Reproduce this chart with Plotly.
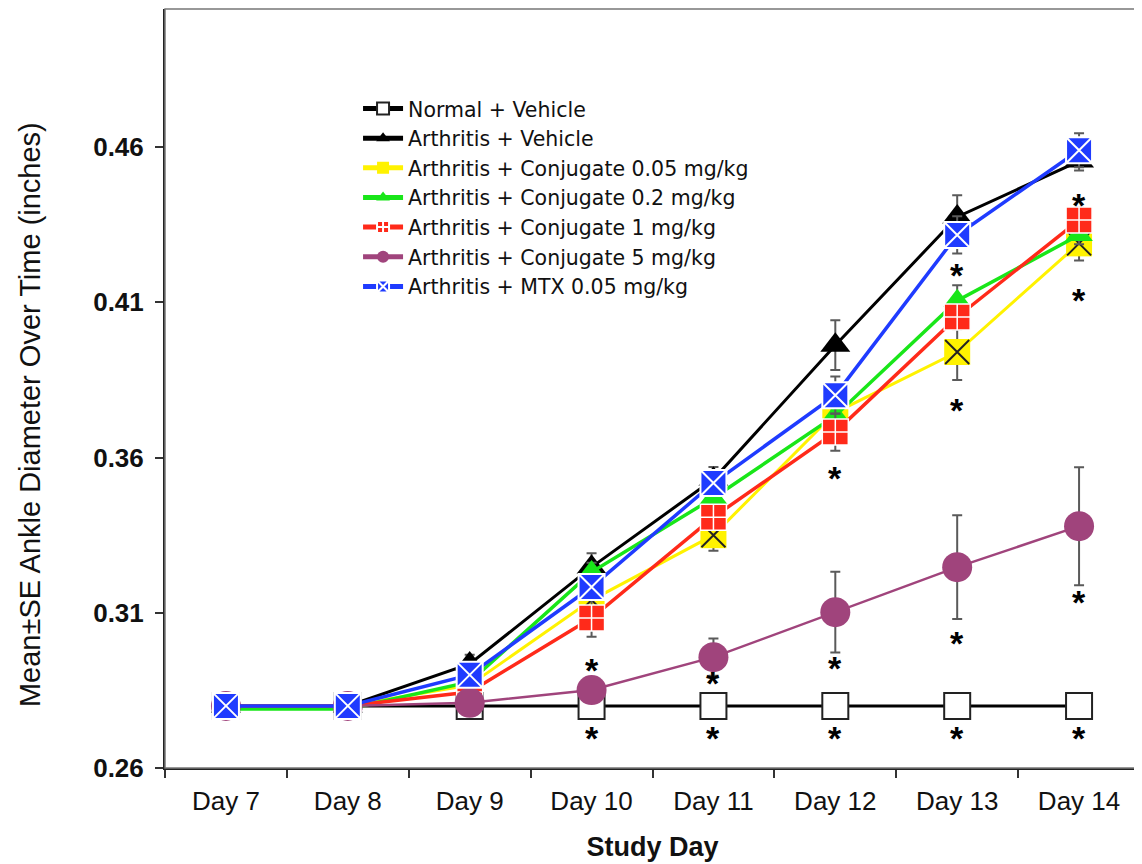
import plotly.graph_objects as go

days = ["Day 7", "Day 8", "Day 9", "Day 10", "Day 11", "Day 12", "Day 13", "Day 14"]

normal_vehicle = [0.280, 0.280, 0.280, 0.280, 0.280, 0.280, 0.280, 0.280]
normal_vehicle_se = [0, 0, 0, 0, 0, 0, 0, 0]

arthritis_vehicle = [0.280, 0.280, 0.2935, 0.3247, 0.3530, 0.3962, 0.4375, 0.4555]
arthritis_vehicle_se = [0, 0, 0.003, 0.0045, 0.004, 0.008, 0.007, 0.003]

conj_005 = [0.280, 0.280, 0.2867, 0.3141, 0.3350, 0.3745, 0.3940, 0.4290]
conj_005_se = [0, 0, 0.002, 0.004, 0.005, 0.005, 0.009, 0.0055]

conj_02 = [0.279, 0.279, 0.2877, 0.3231, 0.3470, 0.3735, 0.4105, 0.4317]
conj_02_se = [0, 0, 0.002, 0.003, 0.003, 0.004, 0.005, 0.003]

conj_1 = [0.280, 0.280, 0.2845, 0.3083, 0.3408, 0.3682, 0.4053, 0.4365]
conj_1_se = [0, 0, 0.002, 0.006, 0.004, 0.006, 0.004, 0.004]

conj_5 = [0.280, 0.280, 0.2810, 0.2851, 0.2957, 0.3102, 0.3247, 0.3379]
conj_5_se = [0, 0, 0.001, 0.002, 0.006, 0.013, 0.0167, 0.019]

mtx_005 = [0.280, 0.280, 0.2900, 0.3183, 0.3518, 0.3801, 0.4317, 0.4590]
mtx_005_se = [0, 0, 0.002, 0.004, 0.004, 0.006, 0.006, 0.0055]

# significance asterisks (day, value)
star_days = ["Day 10", "Day 10", "Day 11", "Day 11", "Day 12", "Day 12", "Day 12",
             "Day 13", "Day 13", "Day 13", "Day 13", "Day 14", "Day 14", "Day 14", "Day 14"]
star_vals = [0.2932, 0.2713, 0.2890, 0.2713, 0.3550, 0.2938, 0.2713,
             0.4204, 0.3769, 0.3019, 0.2713, 0.4429, 0.4123, 0.3151, 0.2713]

y_ticks = [0.26, 0.31, 0.36, 0.41, 0.46]

y_title = "Mean±SE Ankle Diameter Over Time (inches)"
x_title = "Study Day"

ERR_COLOR = "#5a5a5a"

def err(se):
    return dict(type="data", array=se, visible=True, color=ERR_COLOR, thickness=2, width=5)

fig = go.Figure()

fig.add_trace(go.Scatter(
    x=days, y=normal_vehicle, name="Normal + Vehicle", mode="lines+markers",
    line=dict(color="black", width=3),
    marker=dict(symbol="square", size=26, color="white", line=dict(color="#222", width=2)),
    error_y=err(normal_vehicle_se)))

fig.add_trace(go.Scatter(
    x=days, y=arthritis_vehicle, name="Arthritis + Vehicle", mode="lines+markers",
    line=dict(color="black", width=3),
    marker=dict(symbol="triangle-up", size=26, color="black"),
    error_y=err(arthritis_vehicle_se)))

fig.add_trace(go.Scatter(
    x=days, y=conj_005, name="Arthritis + Conjugate 0.05 mg/kg", mode="lines+markers",
    line=dict(color="#FFF200", width=3),
    marker=dict(symbol="square", size=26, color="#FFF200"),
    error_y=err(conj_005_se)))
fig.add_trace(go.Scatter(
    x=days, y=conj_005, mode="markers", showlegend=False,
    marker=dict(symbol="x-thin", size=24, color="#222", line=dict(color="#222", width=2)),
    hoverinfo="skip"))

fig.add_trace(go.Scatter(
    x=days, y=conj_02, name="Arthritis + Conjugate 0.2 mg/kg", mode="lines+markers",
    line=dict(color="#19E619", width=3.5),
    marker=dict(symbol="triangle-up", size=24, color="#19E619"),
    error_y=err(conj_02_se)))

fig.add_trace(go.Scatter(
    x=days, y=conj_1, name="Arthritis + Conjugate 1 mg/kg", mode="lines+markers",
    line=dict(color="#FF2A1A", width=3.5),
    marker=dict(symbol="square-cross", size=26, color="#FF2A1A", line=dict(color="white", width=1.5)),
    error_y=err(conj_1_se)))

fig.add_trace(go.Scatter(
    x=days, y=conj_5, name="Arthritis + Conjugate 5 mg/kg", mode="lines+markers",
    line=dict(color="#A0447C", width=2.5),
    marker=dict(symbol="circle", size=30, color="#A0447C"),
    error_y=err(conj_5_se)))

fig.add_trace(go.Scatter(
    x=days, y=mtx_005, name="Arthritis + MTX 0.05 mg/kg", mode="lines+markers",
    line=dict(color="#1F3BFF", width=3.5),
    marker=dict(symbol="square-x", size=26, color="#1F3BFF", line=dict(color="white", width=2)),
    error_y=err(mtx_005_se)))

for d, v in zip(star_days, star_vals):
    fig.add_annotation(x=d, y=v, text="<b>*</b>", showarrow=False, yshift=-5,
                       font=dict(family="Liberation Sans", size=34, color="black"))

fig.add_annotation(text=y_title, xref="paper", yref="paper", x=0, y=0.465,
                   xshift=-135, xanchor="center", yanchor="middle", textangle=-90,
                   showarrow=False,
                   font=dict(family="Liberation Sans", size=29, color="#111"))

fig.update_layout(
    width=1134, height=856,
    margin=dict(l=157, r=2, t=1, b=96, autoexpand=False),
    paper_bgcolor="white", plot_bgcolor="white",
    font=dict(family="Liberation Sans", color="#111"),
    legend=dict(x=0.198, y=0.895, xanchor="left", yanchor="top",
                bgcolor="rgba(0,0,0,0)", borderwidth=0, itemsizing="constant",
                itemwidth=40, traceorder="normal", tracegroupgap=0,
                font=dict(family="DejaVu Sans", size=20.5, color="#111")),
    showlegend=True,
)

fig.update_xaxes(
    type="category", categoryorder="array", categoryarray=days,
    range=[-0.5, 7.5], tickson="boundaries", ticks="outside", ticklen=8,
    tickcolor="#333", tickwidth=2, showline=True, linecolor="#222", linewidth=2,
    showgrid=False, zeroline=False, ticklabelstandoff=9,
    tickfont=dict(family="Liberation Sans", size=26, color="#111"),
    title=dict(text="<b>" + x_title + "</b>", font=dict(family="Liberation Sans", size=27, color="#111"), standoff=22),
)

fig.update_yaxes(
    range=[0.26, 0.5045], tickvals=y_ticks, tickformat=".2f",
    ticks="outside", ticklen=8, tickcolor="#333", tickwidth=2,
    showline=True, linecolor="#222", linewidth=2, showgrid=False, zeroline=False,
    tickfont=dict(family="Liberation Sans", size=26, color="#111", weight="bold"),
    ticklabelstandoff=6,
)

fig.add_shape(type="rect", xref="paper", yref="paper", x0=0, x1=1, y0=0, y1=1,
              line=dict(color="#777", width=1.5), layer="above")

fig.write_html("out.html")
